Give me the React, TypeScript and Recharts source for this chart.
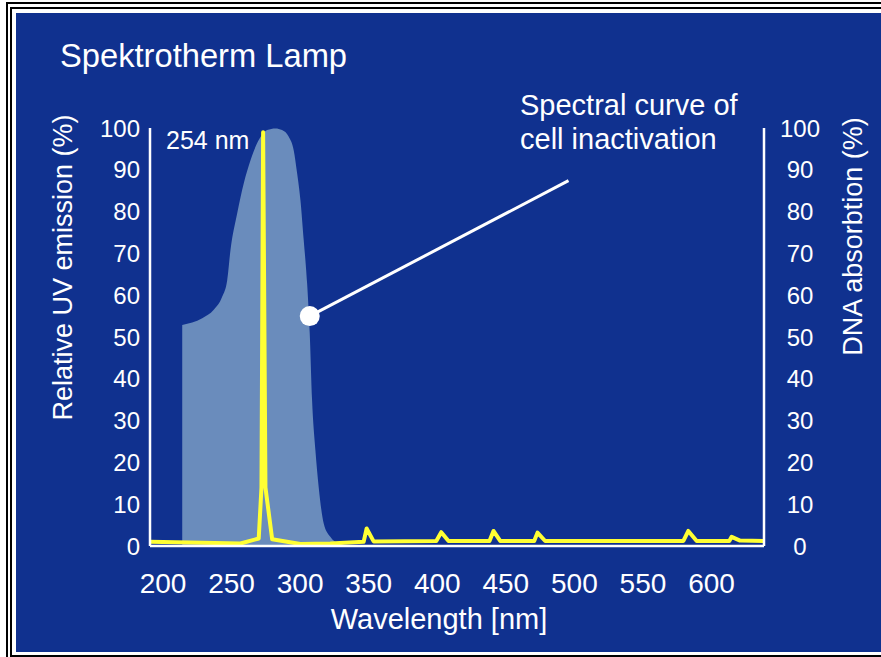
import React from "react";
import { ComposedChart, Area, Line, XAxis, YAxis, ReferenceLine, ReferenceDot } from "recharts";

const FONT = "'Liberation Sans', Arial, sans-serif";
const BLUE = "#10318f";

// x ticks + y ticks
const xTicks = [200, 250, 300, 350, 400, 450, 500, 550, 600];
const yTicks = [0, 10, 20, 30, 40, 50, 60, 70, 80, 90, 100];

// lamp emission (yellow line)
const uvWavelength = [190.5, 256.5, 269.8, 271.8, 273.0, 274.7, 279.6, 300.2, 322.0, 346.3, 348.5, 353.6, 399.3, 402.9, 408.2, 438.1, 441.0, 445.9, 470.7, 473.1, 478.7, 579.5, 583.1, 589.2, 613.0, 614.7, 620.8, 638.3];
const uvEmission = [1.0, 0.6, 1.8, 14, 99, 14, 1.6, 0.5, 0.6, 1.0, 4.2, 1.1, 1.2, 3.3, 1.2, 1.2, 3.6, 1.2, 1.2, 3.2, 1.2, 1.2, 3.6, 1.2, 1.2, 2.2, 1.3, 1.2];

// DNA absorption (filled area)
const dnaWavelength = [214.0, 228.6, 237.0, 243.1, 246.8, 249.2, 254.1, 258.9, 263.8, 269.8, 275.9, 282.0, 286.8, 291.7, 295.3, 297.8, 300.2, 302.6, 305.1, 307.0, 308.7, 311.1, 313.5, 317.2, 322.0, 328.1, 337.9];
const dnaAbsorption = [52.9, 54.5, 56.5, 59.6, 63.6, 70.8, 79.6, 86.8, 92.3, 97.1, 99.5, 99.9, 99.5, 97.9, 94.7, 89.2, 82.8, 73.2, 62.8, 50.9, 34.9, 23, 14.2, 5.4, 2.2, 0.6, 0];

// callout: dot on the curve -> end of leader line
const calloutFrom = { x: 307, y: 55 };
const calloutTo = { x: 495.7, y: 87.4 };

const uvData = uvWavelength.map((wl, i) => ({ wl, uv: uvEmission[i] }));
const dnaData = dnaWavelength.map((wl, i) => ({ wl, dna: dnaAbsorption[i] }));

const XTick = (props: any) => (
  <text x={props.x} y={props.y + 47} textAnchor="middle" fill="#fff" fontSize={28} fontFamily={FONT}>
    {props.payload.value}
  </text>
);

const LeftTick = (props: any) => (
  <text x={props.x - 10} y={props.y + 8.5} textAnchor="end" fill="#fff" fontSize={24} fontFamily={FONT}>
    {props.payload.value}
  </text>
);

const RightTick = (props: any) => (
  <text x={props.x + 36} y={props.y + 8.5} textAnchor="middle" fill="#fff" fontSize={24} fontFamily={FONT}>
    {props.payload.value}
  </text>
);

export default function App() {
  return (
    <div style={{ position: "absolute", left: 0, top: 0, width: 881, height: 657, background: "#fff", overflow: "hidden" }}>
      {/* double frame */}
      <div style={{ position: "absolute", left: 6, top: 2, width: 900, height: 700, border: "2.3px solid #000", boxSizing: "border-box" }} />
      <div style={{ position: "absolute", left: 10, top: 7, width: 900, height: 650, border: "2.5px solid #000", boxSizing: "border-box" }} />
      <div style={{ position: "absolute", left: 16, top: 12.7, width: 865, height: 639.3, background: BLUE }} />

      <div style={{ position: "absolute", left: 0, top: 0 }}>
        <ComposedChart width={881} height={657} margin={{ top: 128, right: 57, bottom: 61, left: 90 }}>
          <XAxis
            dataKey="wl"
            type="number"
            domain={[190.5, 638.3]}
            ticks={xTicks}
            allowDataOverflow
            height={50}
            tickSize={0}
            tickMargin={0}
            tickLine={false}
            axisLine={{ stroke: "#fff", strokeWidth: 2.5 }}
            tick={<XTick />}
          />
          <YAxis
            yAxisId="left"
            domain={[0, 100]}
            ticks={yTicks}
            width={60}
            tickSize={0}
            tickMargin={0}
            tickLine={false}
            axisLine={{ stroke: "#fff", strokeWidth: 2.5 }}
            tick={<LeftTick />}
          />
          <YAxis
            yAxisId="right"
            orientation="right"
            domain={[0, 100]}
            ticks={yTicks}
            width={60}
            tickSize={0}
            tickMargin={0}
            tickLine={false}
            axisLine={{ stroke: "#fff", strokeWidth: 2.5 }}
            tick={<RightTick />}
          />
          <Area
            data={dnaData}
            yAxisId="right"
            dataKey="dna"
            type="monotone"
            stroke="none"
            fill="#6a8cbc"
            fillOpacity={1}
            isAnimationActive={false}
          />
          <Line
            data={uvData}
            yAxisId="left"
            dataKey="uv"
            type="linear"
            stroke="#ffff33"
            strokeWidth={4}
            strokeLinejoin="round"
            dot={false}
            isAnimationActive={false}
          />
          <ReferenceLine
            yAxisId="right"
            segment={[calloutFrom, calloutTo]}
            stroke="#fff"
            strokeWidth={3}
          />
          <ReferenceDot
            yAxisId="right"
            x={calloutFrom.x}
            y={calloutFrom.y}
            r={10}
            fill="#fff"
            stroke="none"
          />
        </ComposedChart>
      </div>

      {/* titles and notes */}
      <svg width={881} height={657} style={{ position: "absolute", left: 0, top: 0, pointerEvents: "none" }}>
        <g fill="#fff" fontFamily={FONT}>
          <text x={60} y={67} fontSize={32.7}>Spektrotherm Lamp</text>
          <text x={166} y={149} fontSize={25}>254 nm</text>
          <text x={520} y={115} fontSize={29}>Spectral curve of</text>
          <text x={520} y={149} fontSize={29}>cell inactivation</text>
          <text x={439} y={629} fontSize={29} textAnchor="middle">Wavelength [nm]</text>
          <text transform="translate(72 267.5) rotate(-90)" fontSize={27} textAnchor="middle">Relative UV emission (%)</text>
          <text transform="translate(862 236.5) rotate(-90)" fontSize={27} textAnchor="middle">DNA absorbtion (%)</text>
        </g>
      </svg>
    </div>
  );
}
